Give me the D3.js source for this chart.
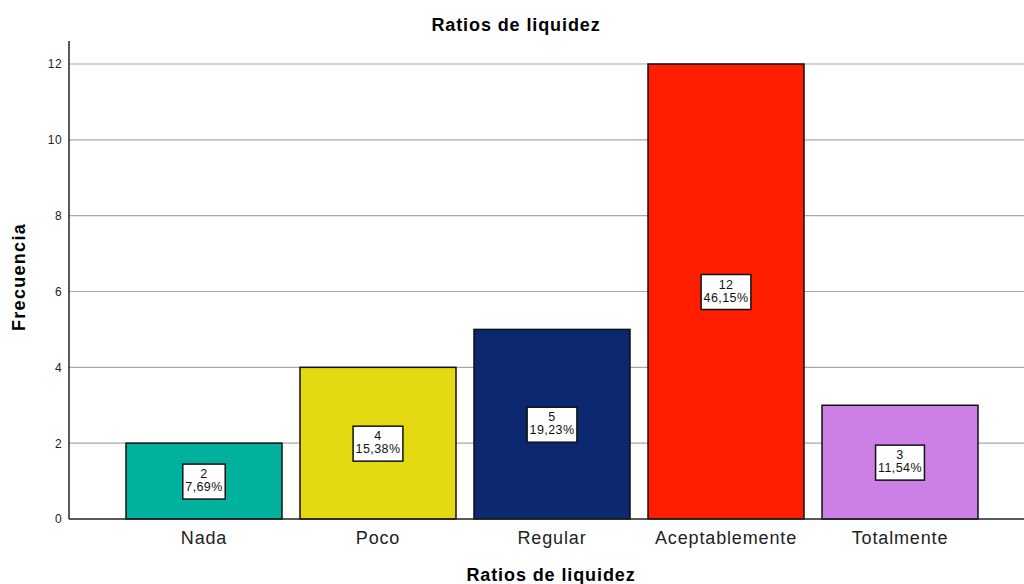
<!DOCTYPE html>
<html>
<head>
<meta charset="utf-8">
<script src="https://d3js.org/d3.v7.min.js"></script>
<style>
  body { margin: 0; background: #fff; }
  svg { font-family: "Liberation Sans", Arial, sans-serif; display: block; }
</style>
</head>
<body>
<div id="chart"></div>
<script>

// Ratios de liquidez - frecuencias
var categories = ["Nada", "Poco", "Regular", "Aceptablemente", "Totalmente"];
var counts = [2, 4, 5, 12, 3];
var percents = ["7,69%", "15,38%", "19,23%", "46,15%", "11,54%"];
var colors = ["#00b29d", "#e5da12", "#0b2870", "#ff1f00", "#cc80e6"];
var yTicks = [0, 2, 4, 6, 8, 10, 12];

var width = 1024, height = 584;

var svg = d3.select("#chart")
  .append("svg")
  .attr("width", width)
  .attr("height", height);

var x = d3.scaleBand()
  .domain(categories)
  .range([117, 987])
  .paddingInner(18 / 174)
  .paddingOuter(9 / 174);

var y = d3.scaleLinear()
  .domain([0, 12])
  .range([519, 64]);

// grid lines
svg.append("g")
  .selectAll("line")
  .data(yTicks.filter(function (d) { return d > 0; }))
  .enter()
  .append("line")
  .attr("x1", 69)
  .attr("x2", width)
  .attr("y1", function (d) { return y(d); })
  .attr("y2", function (d) { return y(d); })
  .attr("stroke", "#a8a8a8")
  .attr("stroke-width", 1.2);

// bars
svg.append("g")
  .selectAll("rect")
  .data(counts)
  .enter()
  .append("rect")
  .attr("x", function (d, i) { return x(categories[i]); })
  .attr("y", function (d) { return y(d); })
  .attr("width", x.bandwidth())
  .attr("height", function (d) { return y(0) - y(d); })
  .attr("fill", function (d, i) { return colors[i]; })
  .attr("stroke", "#111")
  .attr("stroke-width", 1.5);

// y axis (no tick marks, labels only)
var yAxis = d3.axisLeft(y).tickValues(yTicks).tickSize(0).tickPadding(7);
var gy = svg.append("g")
  .attr("transform", "translate(69,0)")
  .call(yAxis);
gy.select(".domain").remove();
gy.selectAll(".tick text").attr("font-size", 12).attr("fill", "#222")
  .attr("letter-spacing", 0.4);
svg.append("line")
  .attr("x1", 69).attr("x2", 69)
  .attr("y1", 41).attr("y2", 519)
  .attr("stroke", "#222").attr("stroke-width", 1.5);

// x axis
var xAxis = d3.axisBottom(x).tickSize(0).tickPadding(12);
var gx = svg.append("g")
  .attr("transform", "translate(0,519)")
  .call(xAxis);
gx.select(".domain").remove();
gx.selectAll(".tick text").attr("font-size", 18).attr("fill", "#222")
  .attr("letter-spacing", 0.85);
svg.append("line")
  .attr("x1", 69).attr("x2", width)
  .attr("y1", 519).attr("y2", 519)
  .attr("stroke", "#222").attr("stroke-width", 1.5);

// value labels
var labels = svg.append("g")
  .selectAll("g")
  .data(counts)
  .enter()
  .append("g")
  .attr("transform", function (d, i) {
    return "translate(" + (x(categories[i]) + x.bandwidth() / 2) + "," + y(d / 2) + ")";
  });

labels.each(function (d, i) {
  var g = d3.select(this);
  var box = g.append("rect");
  var t = g.append("text")
    .attr("text-anchor", "middle")
    .attr("font-size", 12.5)
    .attr("letter-spacing", 0.4)
    .attr("fill", "#111");
  t.append("tspan").attr("x", 0).attr("y", -3).text(d);
  t.append("tspan").attr("x", 0).attr("y", 10).text(percents[i]);
  var w = t.node().getBBox().width + 5;
  box.attr("x", -w / 2).attr("y", -17).attr("width", w).attr("height", 35)
    .attr("fill", "#fff").attr("stroke", "#111").attr("stroke-width", 1.5);
});

// titles
svg.append("text")
  .attr("x", 516).attr("y", 31)
  .attr("text-anchor", "middle")
  .attr("font-size", 18).attr("font-weight", "bold")
  .attr("letter-spacing", 0.9)
  .text("Ratios de liquidez");

svg.append("text")
  .attr("x", 551).attr("y", 581)
  .attr("text-anchor", "middle")
  .attr("font-size", 18).attr("font-weight", "bold")
  .attr("letter-spacing", 0.9)
  .text("Ratios de liquidez");

svg.append("text")
  .attr("transform", "translate(25,277) rotate(-90)")
  .attr("text-anchor", "middle")
  .attr("font-size", 18).attr("font-weight", "bold")
  .attr("letter-spacing", 1.3)
  .text("Frecuencia");

</script>
</body>
</html>
